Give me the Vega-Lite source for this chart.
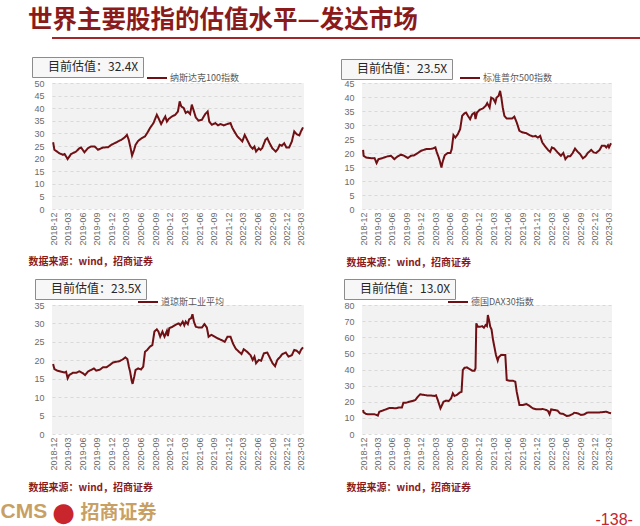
{
"$schema": "https://vega.github.io/schema/vega-lite/v6.json",
"background": "white",
"padding": {"left": 0, "top": 7, "right": 0, "bottom": 0},
"autosize": {"type": "pad"},
"bounds": "flush",
"spacing": 45,
"title": {"text": "世界主要股指的估值水平—发达市场", "anchor": "start", "frame": "group", "dx": -24, "offset": 4, "font": "Noto Sans CJK SC", "fontSize": 24.5, "fontWeight": "bold", "color": "#8b1a1a"},
"resolve": {"scale": {"color": "independent", "strokeDash": "independent"}, "legend": {"color": "independent", "strokeDash": "independent"}},
"config": {
  "view": {"fill": "#f2f2f2", "stroke": null},
  "axis": {"labelFont": "Liberation Sans", "labelFontSize": 9, "labelColor": "#6b6b6b", "domain": false, "ticks": false},
  "axisX": {"grid": false, "labelAngle": -90, "labelPadding": 3, "titleFont": "Noto Sans CJK SC", "titleFontSize": 10, "titleFontWeight": "bold", "titleColor": "#8b1a1a", "titleAnchor": "start", "titleAlign": "left", "titleBaseline": "middle"},
  "axisY": {"grid": true, "gridColor": "#d2d2d2", "gridDash": [3, 3], "gridWidth": 0.8, "labelPadding": 8, "titleAngle": 0, "titleAlign": "left", "titleBaseline": "middle"}
},
"datasets": {
"ndx": [
{"date":"2018-12-01","pe":26.5},{"date":"2018-12-09","pe":23.5},{"date":"2019-01-10","pe":22.1},{"date":"2019-02-01","pe":21.5},{"date":"2019-02-11","pe":21.8},{"date":"2019-03-02","pe":19.8},{"date":"2019-03-23","pe":21.8},{"date":"2019-04-24","pe":22.8},{"date":"2019-05-14","pe":24.1},{"date":"2019-05-25","pe":24.4},{"date":"2019-06-15","pe":22.5},{"date":"2019-07-06","pe":24.1},{"date":"2019-07-27","pe":24.8},{"date":"2019-08-18","pe":24.8},{"date":"2019-09-08","pe":23.5},{"date":"2019-09-18","pe":23.8},{"date":"2019-10-09","pe":24.4},{"date":"2019-11-10","pe":24.5},{"date":"2019-12-01","pe":25.5},{"date":"2019-12-21","pe":26.1},{"date":"2020-01-11","pe":26.8},{"date":"2020-02-02","pe":27.5},{"date":"2020-02-22","pe":28.4},{"date":"2020-03-07","pe":29.4},{"date":"2020-03-18","pe":27.5},{"date":"2020-03-30","pe":24.1},{"date":"2020-04-08","pe":21.2},{"date":"2020-04-21","pe":23.5},{"date":"2020-04-30","pe":25.5},{"date":"2020-05-16","pe":27.0},{"date":"2020-06-07","pe":28.1},{"date":"2020-06-28","pe":28.8},{"date":"2020-07-18","pe":30.8},{"date":"2020-07-29","pe":32.1},{"date":"2020-08-20","pe":34.1},{"date":"2020-09-10","pe":37.4},{"date":"2020-09-20","pe":36.1},{"date":"2020-10-07","pe":33.7},{"date":"2020-10-21","pe":35.4},{"date":"2020-11-02","pe":36.7},{"date":"2020-11-12","pe":34.7},{"date":"2020-11-23","pe":35.7},{"date":"2020-12-13","pe":36.7},{"date":"2021-01-04","pe":37.4},{"date":"2021-01-20","pe":38.7},{"date":"2021-01-31","pe":42.7},{"date":"2021-02-10","pe":40.7},{"date":"2021-02-25","pe":40.1},{"date":"2021-03-10","pe":38.1},{"date":"2021-03-23","pe":38.7},{"date":"2021-04-06","pe":37.7},{"date":"2021-04-17","pe":41.4},{"date":"2021-04-27","pe":39.4},{"date":"2021-05-12","pe":36.3},{"date":"2021-05-28","pe":35.1},{"date":"2021-06-19","pe":35.4},{"date":"2021-07-10","pe":37.7},{"date":"2021-07-25","pe":38.7},{"date":"2021-08-04","pe":34.7},{"date":"2021-08-21","pe":33.4},{"date":"2021-09-11","pe":34.1},{"date":"2021-09-28","pe":33.2},{"date":"2021-10-13","pe":33.7},{"date":"2021-11-03","pe":33.2},{"date":"2021-11-24","pe":33.7},{"date":"2021-12-15","pe":34.1},{"date":"2021-12-25","pe":32.4},{"date":"2022-01-08","pe":30.8},{"date":"2022-01-27","pe":28.8},{"date":"2022-02-17","pe":27.5},{"date":"2022-02-27","pe":26.8},{"date":"2022-03-14","pe":29.4},{"date":"2022-03-29","pe":27.5},{"date":"2022-04-19","pe":24.8},{"date":"2022-05-03","pe":23.9},{"date":"2022-05-14","pe":24.8},{"date":"2022-05-24","pe":22.8},{"date":"2022-06-10","pe":24.1},{"date":"2022-06-21","pe":23.5},{"date":"2022-07-01","pe":24.1},{"date":"2022-07-22","pe":27.5},{"date":"2022-08-02","pe":28.1},{"date":"2022-08-17","pe":26.1},{"date":"2022-09-03","pe":24.1},{"date":"2022-09-24","pe":22.8},{"date":"2022-10-08","pe":23.9},{"date":"2022-10-19","pe":25.5},{"date":"2022-11-01","pe":25.1},{"date":"2022-11-16","pe":26.1},{"date":"2022-11-30","pe":24.4},{"date":"2022-12-17","pe":24.4},{"date":"2023-01-03","pe":26.8},{"date":"2023-01-18","pe":30.8},{"date":"2023-02-02","pe":29.7},{"date":"2023-02-19","pe":29.2},{"date":"2023-03-01","pe":30.8},{"date":"2023-03-14","pe":32.4}
],
"spx": [
{"date":"2018-12-01","pe":21.1},{"date":"2018-12-04","pe":19.0},{"date":"2018-12-20","pe":18.4},{"date":"2019-01-10","pe":18.2},{"date":"2019-02-01","pe":18.1},{"date":"2019-02-11","pe":18.2},{"date":"2019-02-24","pe":16.4},{"date":"2019-03-08","pe":17.8},{"date":"2019-04-03","pe":18.2},{"date":"2019-05-04","pe":18.8},{"date":"2019-05-26","pe":19.0},{"date":"2019-06-16","pe":17.8},{"date":"2019-07-07","pe":18.8},{"date":"2019-07-28","pe":19.4},{"date":"2019-08-18","pe":19.0},{"date":"2019-09-09","pe":18.2},{"date":"2019-09-29","pe":19.0},{"date":"2019-10-20","pe":19.2},{"date":"2019-11-11","pe":20.0},{"date":"2019-12-02","pe":20.8},{"date":"2020-01-03","pe":21.4},{"date":"2020-01-24","pe":21.4},{"date":"2020-02-14","pe":21.6},{"date":"2020-03-01","pe":22.0},{"date":"2020-03-09","pe":20.4},{"date":"2020-03-22","pe":18.4},{"date":"2020-03-30","pe":16.9},{"date":"2020-04-08","pe":14.8},{"date":"2020-04-16","pe":16.9},{"date":"2020-04-29","pe":19.2},{"date":"2020-05-18","pe":20.0},{"date":"2020-06-04","pe":20.0},{"date":"2020-06-12","pe":21.4},{"date":"2020-06-23","pe":26.4},{"date":"2020-07-05","pe":25.5},{"date":"2020-07-20","pe":26.7},{"date":"2020-08-04","pe":28.5},{"date":"2020-08-17","pe":33.3},{"date":"2020-09-01","pe":34.2},{"date":"2020-09-11","pe":34.4},{"date":"2020-09-22","pe":33.3},{"date":"2020-10-06","pe":32.1},{"date":"2020-10-19","pe":33.8},{"date":"2020-11-03","pe":34.4},{"date":"2020-11-09","pe":32.1},{"date":"2020-11-18","pe":34.4},{"date":"2020-12-04","pe":35.4},{"date":"2020-12-25","pe":35.9},{"date":"2021-01-12","pe":36.8},{"date":"2021-01-22","pe":37.8},{"date":"2021-02-06","pe":36.2},{"date":"2021-02-16","pe":39.8},{"date":"2021-03-01","pe":39.4},{"date":"2021-03-14","pe":38.0},{"date":"2021-03-22","pe":39.8},{"date":"2021-04-04","pe":40.4},{"date":"2021-04-13","pe":42.2},{"date":"2021-04-21","pe":39.8},{"date":"2021-04-30","pe":36.2},{"date":"2021-05-10","pe":33.3},{"date":"2021-05-25","pe":32.3},{"date":"2021-06-11","pe":32.3},{"date":"2021-06-28","pe":32.3},{"date":"2021-07-12","pe":33.0},{"date":"2021-07-27","pe":30.9},{"date":"2021-08-13","pe":27.9},{"date":"2021-09-04","pe":27.3},{"date":"2021-09-25","pe":27.1},{"date":"2021-10-16","pe":26.4},{"date":"2021-11-06","pe":25.9},{"date":"2021-11-23","pe":26.1},{"date":"2021-12-07","pe":25.5},{"date":"2021-12-22","pe":26.1},{"date":"2022-01-04","pe":23.8},{"date":"2022-01-19","pe":22.6},{"date":"2022-02-09","pe":21.1},{"date":"2022-02-23","pe":20.4},{"date":"2022-03-06","pe":22.0},{"date":"2022-03-21","pe":21.6},{"date":"2022-04-11","pe":20.2},{"date":"2022-05-02","pe":19.0},{"date":"2022-05-17","pe":20.0},{"date":"2022-05-30","pe":17.8},{"date":"2022-06-14","pe":18.8},{"date":"2022-06-29","pe":18.8},{"date":"2022-07-15","pe":20.0},{"date":"2022-07-30","pe":21.6},{"date":"2022-08-16","pe":20.4},{"date":"2022-08-31","pe":19.6},{"date":"2022-09-17","pe":18.1},{"date":"2022-10-04","pe":18.8},{"date":"2022-10-18","pe":20.0},{"date":"2022-11-09","pe":21.1},{"date":"2022-11-24","pe":20.2},{"date":"2022-12-10","pe":20.0},{"date":"2023-01-01","pe":21.1},{"date":"2023-01-15","pe":22.6},{"date":"2023-02-02","pe":22.6},{"date":"2023-02-12","pe":22.0},{"date":"2023-02-23","pe":22.8},{"date":"2023-03-01","pe":22.0},{"date":"2023-03-14","pe":23.5}
],
"dji": [
{"date":"2018-12-01","pe":19.0},{"date":"2018-12-09","pe":17.6},{"date":"2018-12-26","pe":17.2},{"date":"2019-01-21","pe":16.9},{"date":"2019-02-11","pe":16.7},{"date":"2019-02-20","pe":16.9},{"date":"2019-03-02","pe":15.1},{"date":"2019-03-12","pe":16.0},{"date":"2019-04-03","pe":16.6},{"date":"2019-04-24","pe":16.6},{"date":"2019-05-14","pe":17.0},{"date":"2019-06-05","pe":16.5},{"date":"2019-06-19","pe":16.0},{"date":"2019-07-06","pe":16.9},{"date":"2019-07-27","pe":17.4},{"date":"2019-08-13","pe":17.8},{"date":"2019-08-28","pe":17.2},{"date":"2019-09-18","pe":17.4},{"date":"2019-10-09","pe":18.1},{"date":"2019-10-30","pe":18.1},{"date":"2019-11-20","pe":18.7},{"date":"2019-12-11","pe":19.4},{"date":"2020-01-01","pe":19.6},{"date":"2020-01-23","pe":19.8},{"date":"2020-02-12","pe":20.3},{"date":"2020-02-26","pe":20.8},{"date":"2020-03-10","pe":20.3},{"date":"2020-03-19","pe":18.3},{"date":"2020-03-27","pe":16.9},{"date":"2020-04-05","pe":14.6},{"date":"2020-04-11","pe":13.6},{"date":"2020-04-22","pe":15.6},{"date":"2020-04-30","pe":17.4},{"date":"2020-05-16","pe":17.8},{"date":"2020-06-03","pe":17.5},{"date":"2020-06-17","pe":18.3},{"date":"2020-06-28","pe":22.3},{"date":"2020-07-12","pe":22.8},{"date":"2020-07-29","pe":23.7},{"date":"2020-08-13","pe":24.1},{"date":"2020-08-26","pe":27.8},{"date":"2020-09-10","pe":28.4},{"date":"2020-09-20","pe":27.8},{"date":"2020-10-01","pe":26.4},{"date":"2020-10-15","pe":27.8},{"date":"2020-10-28","pe":26.4},{"date":"2020-11-12","pe":28.0},{"date":"2020-11-18","pe":26.6},{"date":"2020-11-27","pe":28.7},{"date":"2020-12-17","pe":29.1},{"date":"2021-01-08","pe":29.7},{"date":"2021-01-25","pe":30.0},{"date":"2021-02-04","pe":29.5},{"date":"2021-02-19","pe":30.5},{"date":"2021-03-01","pe":29.5},{"date":"2021-03-10","pe":30.5},{"date":"2021-03-23","pe":29.8},{"date":"2021-03-31","pe":31.1},{"date":"2021-04-13","pe":31.4},{"date":"2021-04-21","pe":32.5},{"date":"2021-04-30","pe":30.5},{"date":"2021-05-12","pe":29.1},{"date":"2021-05-28","pe":28.9},{"date":"2021-06-19","pe":28.9},{"date":"2021-07-05","pe":29.8},{"date":"2021-07-20","pe":28.9},{"date":"2021-07-31","pe":26.4},{"date":"2021-08-17","pe":26.9},{"date":"2021-09-07","pe":26.4},{"date":"2021-09-28","pe":25.9},{"date":"2021-10-19","pe":25.5},{"date":"2021-11-09","pe":25.0},{"date":"2021-11-26","pe":26.4},{"date":"2021-12-15","pe":26.4},{"date":"2021-12-30","pe":24.6},{"date":"2022-01-16","pe":23.2},{"date":"2022-02-06","pe":22.3},{"date":"2022-02-22","pe":21.7},{"date":"2022-03-08","pe":23.0},{"date":"2022-03-29","pe":22.3},{"date":"2022-04-19","pe":21.4},{"date":"2022-05-03","pe":20.1},{"date":"2022-05-14","pe":21.0},{"date":"2022-05-24","pe":19.2},{"date":"2022-06-10","pe":20.1},{"date":"2022-06-25","pe":19.9},{"date":"2022-07-12","pe":21.9},{"date":"2022-08-02","pe":22.1},{"date":"2022-08-17","pe":20.8},{"date":"2022-09-03","pe":19.3},{"date":"2022-09-20","pe":18.4},{"date":"2022-10-04","pe":20.1},{"date":"2022-10-19","pe":20.8},{"date":"2022-11-05","pe":21.7},{"date":"2022-11-26","pe":22.1},{"date":"2022-12-13","pe":21.0},{"date":"2023-01-03","pe":21.4},{"date":"2023-01-18","pe":22.8},{"date":"2023-02-02","pe":22.6},{"date":"2023-02-19","pe":21.9},{"date":"2023-03-01","pe":22.8},{"date":"2023-03-14","pe":23.5}
],
"dax": [
{"date":"2018-12-01","pe":14.9},{"date":"2018-12-04","pe":13.4},{"date":"2018-12-20","pe":12.4},{"date":"2019-01-10","pe":12.2},{"date":"2019-02-11","pe":12.2},{"date":"2019-02-24","pe":11.8},{"date":"2019-03-04","pe":11.4},{"date":"2019-03-13","pe":13.8},{"date":"2019-04-03","pe":14.5},{"date":"2019-04-24","pe":15.3},{"date":"2019-05-15","pe":16.1},{"date":"2019-06-05","pe":16.1},{"date":"2019-06-26","pe":15.9},{"date":"2019-07-17","pe":16.5},{"date":"2019-08-03","pe":16.5},{"date":"2019-08-12","pe":19.4},{"date":"2019-08-29","pe":19.4},{"date":"2019-09-19","pe":20.0},{"date":"2019-10-10","pe":20.5},{"date":"2019-10-27","pe":21.1},{"date":"2019-11-11","pe":23.1},{"date":"2019-11-26","pe":24.6},{"date":"2019-12-23","pe":24.2},{"date":"2020-01-13","pe":23.8},{"date":"2020-02-04","pe":23.8},{"date":"2020-02-24","pe":23.6},{"date":"2020-03-05","pe":24.0},{"date":"2020-03-16","pe":21.1},{"date":"2020-03-26","pe":18.0},{"date":"2020-04-02","pe":15.9},{"date":"2020-04-12","pe":18.0},{"date":"2020-04-21","pe":20.0},{"date":"2020-05-08","pe":20.7},{"date":"2020-05-24","pe":20.5},{"date":"2020-06-08","pe":22.1},{"date":"2020-06-19","pe":25.2},{"date":"2020-06-29","pe":23.6},{"date":"2020-07-14","pe":24.2},{"date":"2020-07-31","pe":25.6},{"date":"2020-08-13","pe":26.2},{"date":"2020-08-21","pe":39.7},{"date":"2020-09-01","pe":41.1},{"date":"2020-09-16","pe":41.3},{"date":"2020-10-02","pe":40.3},{"date":"2020-10-19","pe":39.3},{"date":"2020-11-03","pe":39.3},{"date":"2020-11-09","pe":40.7},{"date":"2020-11-14","pe":68.6},{"date":"2020-11-24","pe":66.5},{"date":"2020-12-08","pe":66.5},{"date":"2020-12-21","pe":66.9},{"date":"2021-01-01","pe":65.9},{"date":"2021-01-12","pe":67.6},{"date":"2021-01-20","pe":66.9},{"date":"2021-01-26","pe":73.8},{"date":"2021-02-02","pe":70.7},{"date":"2021-02-10","pe":66.5},{"date":"2021-02-18","pe":64.9},{"date":"2021-02-27","pe":58.7},{"date":"2021-03-08","pe":54.1},{"date":"2021-03-18","pe":49.0},{"date":"2021-03-29","pe":45.5},{"date":"2021-04-04","pe":47.5},{"date":"2021-04-19","pe":49.0},{"date":"2021-05-04","pe":49.0},{"date":"2021-05-16","pe":49.0},{"date":"2021-05-25","pe":33.5},{"date":"2021-06-11","pe":33.1},{"date":"2021-07-02","pe":33.1},{"date":"2021-07-18","pe":32.4},{"date":"2021-07-27","pe":26.2},{"date":"2021-08-13","pe":18.0},{"date":"2021-09-04","pe":18.0},{"date":"2021-09-25","pe":18.6},{"date":"2021-10-16","pe":17.4},{"date":"2021-11-06","pe":15.9},{"date":"2021-11-27","pe":15.3},{"date":"2021-12-18","pe":15.3},{"date":"2022-01-08","pe":15.5},{"date":"2022-01-29","pe":14.9},{"date":"2022-02-09","pe":14.3},{"date":"2022-02-19","pe":12.2},{"date":"2022-03-01","pe":15.3},{"date":"2022-03-21","pe":14.9},{"date":"2022-04-11","pe":14.5},{"date":"2022-04-26","pe":12.8},{"date":"2022-05-17","pe":12.4},{"date":"2022-06-07","pe":11.2},{"date":"2022-06-24","pe":11.4},{"date":"2022-07-15","pe":12.4},{"date":"2022-07-25","pe":13.2},{"date":"2022-08-16","pe":12.8},{"date":"2022-09-06","pe":11.8},{"date":"2022-09-27","pe":12.2},{"date":"2022-10-12","pe":13.2},{"date":"2022-10-29","pe":13.4},{"date":"2022-11-19","pe":13.4},{"date":"2022-12-10","pe":13.4},{"date":"2023-01-01","pe":13.4},{"date":"2023-01-22","pe":13.6},{"date":"2023-02-12","pe":13.8},{"date":"2023-03-01","pe":13.2},{"date":"2023-03-14","pe":12.9}
]
},
"vconcat": [
{
  "width": 588, "height": 1,
  "data": {"values": [{}]},
  "view": {"fill": null, "stroke": null},
  "mark": {"type": "rule", "color": "#a3272a", "strokeWidth": 2},
  "encoding": {"y": {"datum": 0, "type": "quantitative", "scale": {"domain": [0, 1]}, "axis": null}}
},
{
  "bounds": "flush",
  "spacing": 222,
  "resolve": {"scale": {"color": "independent", "strokeDash": "independent"}, "legend": {"color": "independent", "strokeDash": "independent"}},
  "vconcat": [
  {
    "bounds": "flush",
    "spacing": 58,
    "resolve": {"scale": {"color": "independent", "strokeDash": "independent"}, "legend": {"color": "independent", "strokeDash": "independent"}},
    "hconcat": [
    {
      "width": 252, "height": 126,
      "data": {"name": "ndx"},
      "mark": {"type": "line", "strokeWidth": 2},
      "encoding": {
        "x": {"field": "date", "type": "temporal",
          "scale": {"type": "utc", "domain": [{"year":2018,"month":11,"date":24,"utc":true},{"year":2023,"month":3,"date":20,"utc":true}]},
          "axis": {"format": "%Y-%m", "title": "数据来源：wind，招商证券", "titleX": -24, "titleY": 52,
            "values": [{"year":2018,"month":12,"date":1,"utc":true},{"year":2019,"month":3,"date":1,"utc":true},{"year":2019,"month":6,"date":1,"utc":true},{"year":2019,"month":9,"date":1,"utc":true},{"year":2019,"month":12,"date":1,"utc":true},{"year":2020,"month":3,"date":1,"utc":true},{"year":2020,"month":6,"date":1,"utc":true},{"year":2020,"month":9,"date":1,"utc":true},{"year":2020,"month":12,"date":1,"utc":true},{"year":2021,"month":3,"date":1,"utc":true},{"year":2021,"month":6,"date":1,"utc":true},{"year":2021,"month":9,"date":1,"utc":true},{"year":2021,"month":12,"date":1,"utc":true},{"year":2022,"month":3,"date":1,"utc":true},{"year":2022,"month":6,"date":1,"utc":true},{"year":2022,"month":9,"date":1,"utc":true},{"year":2022,"month":12,"date":1,"utc":true},{"year":2023,"month":3,"date":1,"utc":true}]}},
        "y": {"field": "pe", "type": "quantitative", "scale": {"domain": [0, 50], "nice": false},
          "axis": {"values": [0,5,10,15,20,25,30,35,40,45,50], "title": "CMS", "titleX": -52, "titleY": 428, "titleFont": "Liberation Sans", "titleFontSize": 21, "titleFontWeight": "bold", "titleColor": "#c9a063"}},
        "color": {"datum": "纳斯达克100指数", "scale": {"range": ["#701014"]},
          "legend": {"orient": "none", "legendX": 94, "legendY": -16, "title": null, "symbolType": "stroke", "symbolSize": 400, "symbolStrokeWidth": 2, "labelFont": "Noto Sans CJK SC", "labelFontSize": 9, "labelColor": "#595959", "labelOffset": 2, "padding": 0}},
        "strokeDash": {"datum": "目前估值：32.4X", "scale": {"range": [[1, 0]]},
          "legend": {"orient": "none", "legendX": -20, "legendY": -26, "title": null, "symbolOpacity": 0, "symbolStrokeWidth": 0, "symbolSize": 1, "labelOffset": 0, "labelFont": "Noto Sans CJK SC", "labelFontSize": 12, "labelColor": "#262626", "padding": 4, "strokeColor": "#8c8c8c", "fillColor": "#f7f7f7"}}
      }
    },
    {
      "width": 250, "height": 126,
      "data": {"name": "spx"},
      "mark": {"type": "line", "strokeWidth": 2},
      "encoding": {
        "x": {"field": "date", "type": "temporal",
          "scale": {"type": "utc", "domain": [{"year":2018,"month":11,"date":24,"utc":true},{"year":2023,"month":3,"date":20,"utc":true}]},
          "axis": {"format": "%Y-%m", "title": "数据来源：wind，招商证券", "titleX": -16, "titleY": 53,
            "values": [{"year":2018,"month":12,"date":1,"utc":true},{"year":2019,"month":3,"date":1,"utc":true},{"year":2019,"month":6,"date":1,"utc":true},{"year":2019,"month":9,"date":1,"utc":true},{"year":2019,"month":12,"date":1,"utc":true},{"year":2020,"month":3,"date":1,"utc":true},{"year":2020,"month":6,"date":1,"utc":true},{"year":2020,"month":9,"date":1,"utc":true},{"year":2020,"month":12,"date":1,"utc":true},{"year":2021,"month":3,"date":1,"utc":true},{"year":2021,"month":6,"date":1,"utc":true},{"year":2021,"month":9,"date":1,"utc":true},{"year":2021,"month":12,"date":1,"utc":true},{"year":2022,"month":3,"date":1,"utc":true},{"year":2022,"month":6,"date":1,"utc":true},{"year":2022,"month":9,"date":1,"utc":true},{"year":2022,"month":12,"date":1,"utc":true},{"year":2023,"month":3,"date":1,"utc":true}]}},
        "y": {"field": "pe", "type": "quantitative", "scale": {"domain": [0, 45], "nice": false},
          "axis": {"values": [0,5,10,15,20,25,30,35,40,45], "title": "●", "titleX": -299, "titleY": 429, "titleAlign": "center", "titleFont": "DejaVu Sans", "titleFontSize": 26, "titleFontWeight": "normal", "titleColor": "#c8252c"}},
        "color": {"datum": "标准普尔500指数", "scale": {"range": ["#701014"]},
          "legend": {"orient": "none", "legendX": 97, "legendY": -16, "title": null, "symbolType": "stroke", "symbolSize": 400, "symbolStrokeWidth": 2, "labelFont": "Noto Sans CJK SC", "labelFontSize": 9, "labelColor": "#595959", "labelOffset": 2, "padding": 0}},
        "strokeDash": {"datum": "目前估值：23.5X", "scale": {"range": [[1, 0]]},
          "legend": {"orient": "none", "legendX": -21, "legendY": -24, "title": null, "symbolOpacity": 0, "symbolStrokeWidth": 0, "symbolSize": 1, "labelOffset": 0, "labelFont": "Noto Sans CJK SC", "labelFontSize": 12, "labelColor": "#262626", "padding": 4, "strokeColor": "#8c8c8c", "fillColor": "#f7f7f7"}}
      }
    }
    ]
  },
  {
    "bounds": "flush",
    "spacing": 58,
    "resolve": {"scale": {"color": "independent", "strokeDash": "independent"}, "legend": {"color": "independent", "strokeDash": "independent"}},
    "hconcat": [
    {
      "width": 252, "height": 129,
      "data": {"name": "dji"},
      "mark": {"type": "line", "strokeWidth": 2},
      "encoding": {
        "x": {"field": "date", "type": "temporal",
          "scale": {"type": "utc", "domain": [{"year":2018,"month":11,"date":24,"utc":true},{"year":2023,"month":3,"date":20,"utc":true}]},
          "axis": {"format": "%Y-%m", "title": "数据来源：wind，招商证券", "titleX": -24, "titleY": 53,
            "values": [{"year":2018,"month":12,"date":1,"utc":true},{"year":2019,"month":3,"date":1,"utc":true},{"year":2019,"month":6,"date":1,"utc":true},{"year":2019,"month":9,"date":1,"utc":true},{"year":2019,"month":12,"date":1,"utc":true},{"year":2020,"month":3,"date":1,"utc":true},{"year":2020,"month":6,"date":1,"utc":true},{"year":2020,"month":9,"date":1,"utc":true},{"year":2020,"month":12,"date":1,"utc":true},{"year":2021,"month":3,"date":1,"utc":true},{"year":2021,"month":6,"date":1,"utc":true},{"year":2021,"month":9,"date":1,"utc":true},{"year":2021,"month":12,"date":1,"utc":true},{"year":2022,"month":3,"date":1,"utc":true},{"year":2022,"month":6,"date":1,"utc":true},{"year":2022,"month":9,"date":1,"utc":true},{"year":2022,"month":12,"date":1,"utc":true},{"year":2023,"month":3,"date":1,"utc":true}]}},
        "y": {"field": "pe", "type": "quantitative", "scale": {"domain": [0, 35], "nice": false},
          "axis": {"values": [0,5,10,15,20,25,30,35], "title": "招商证券", "titleX": 28, "titleY": 207, "titleFont": "Noto Sans CJK SC", "titleFontSize": 19, "titleFontWeight": "bold", "titleColor": "#c9a063"}},
        "color": {"datum": "道琼斯工业平均", "scale": {"range": ["#701014"]},
          "legend": {"orient": "none", "legendX": 85, "legendY": -14, "title": null, "symbolType": "stroke", "symbolSize": 400, "symbolStrokeWidth": 2, "labelFont": "Noto Sans CJK SC", "labelFontSize": 9, "labelColor": "#595959", "labelOffset": 2, "padding": 0}},
        "strokeDash": {"datum": "目前估值：23.5X", "scale": {"range": [[1, 0]]},
          "legend": {"orient": "none", "legendX": -17, "legendY": -26, "title": null, "symbolOpacity": 0, "symbolStrokeWidth": 0, "symbolSize": 1, "labelOffset": 0, "labelFont": "Noto Sans CJK SC", "labelFontSize": 12, "labelColor": "#262626", "padding": 4, "strokeColor": "#8c8c8c", "fillColor": "#f7f7f7"}}
      }
    },
    {
      "width": 250, "height": 129,
      "data": {"name": "dax"},
      "mark": {"type": "line", "strokeWidth": 2},
      "encoding": {
        "x": {"field": "date", "type": "temporal",
          "scale": {"type": "utc", "domain": [{"year":2018,"month":11,"date":24,"utc":true},{"year":2023,"month":3,"date":20,"utc":true}]},
          "axis": {"format": "%Y-%m", "title": "数据来源：wind，招商证券", "titleX": -16, "titleY": 53,
            "values": [{"year":2018,"month":12,"date":1,"utc":true},{"year":2019,"month":3,"date":1,"utc":true},{"year":2019,"month":6,"date":1,"utc":true},{"year":2019,"month":9,"date":1,"utc":true},{"year":2019,"month":12,"date":1,"utc":true},{"year":2020,"month":3,"date":1,"utc":true},{"year":2020,"month":6,"date":1,"utc":true},{"year":2020,"month":9,"date":1,"utc":true},{"year":2020,"month":12,"date":1,"utc":true},{"year":2021,"month":3,"date":1,"utc":true},{"year":2021,"month":6,"date":1,"utc":true},{"year":2021,"month":9,"date":1,"utc":true},{"year":2021,"month":12,"date":1,"utc":true},{"year":2022,"month":3,"date":1,"utc":true},{"year":2022,"month":6,"date":1,"utc":true},{"year":2022,"month":9,"date":1,"utc":true},{"year":2022,"month":12,"date":1,"utc":true},{"year":2023,"month":3,"date":1,"utc":true}]}},
        "y": {"field": "pe", "type": "quantitative", "scale": {"domain": [0, 80], "nice": false},
          "axis": {"values": [0,10,20,30,40,50,60,70,80], "title": "-138-", "titleX": 233, "titleY": 214, "titleFont": "Liberation Sans", "titleFontSize": 16, "titleFontWeight": "normal", "titleColor": "#c8252c"}},
        "color": {"datum": "德国DAX30指数", "scale": {"range": ["#701014"]},
          "legend": {"orient": "none", "legendX": 85, "legendY": -14, "title": null, "symbolType": "stroke", "symbolSize": 400, "symbolStrokeWidth": 2, "labelFont": "Noto Sans CJK SC", "labelFontSize": 9, "labelColor": "#595959", "labelOffset": 2, "padding": 0}},
        "strokeDash": {"datum": "目前估值：13.0X", "scale": {"range": [[1, 0]]},
          "legend": {"orient": "none", "legendX": -18, "legendY": -26, "title": null, "symbolOpacity": 0, "symbolStrokeWidth": 0, "symbolSize": 1, "labelOffset": 0, "labelFont": "Noto Sans CJK SC", "labelFontSize": 12, "labelColor": "#262626", "padding": 4, "strokeColor": "#8c8c8c", "fillColor": "#f7f7f7"}}
      }
    }
    ]
  }
  ]
}
]
}
